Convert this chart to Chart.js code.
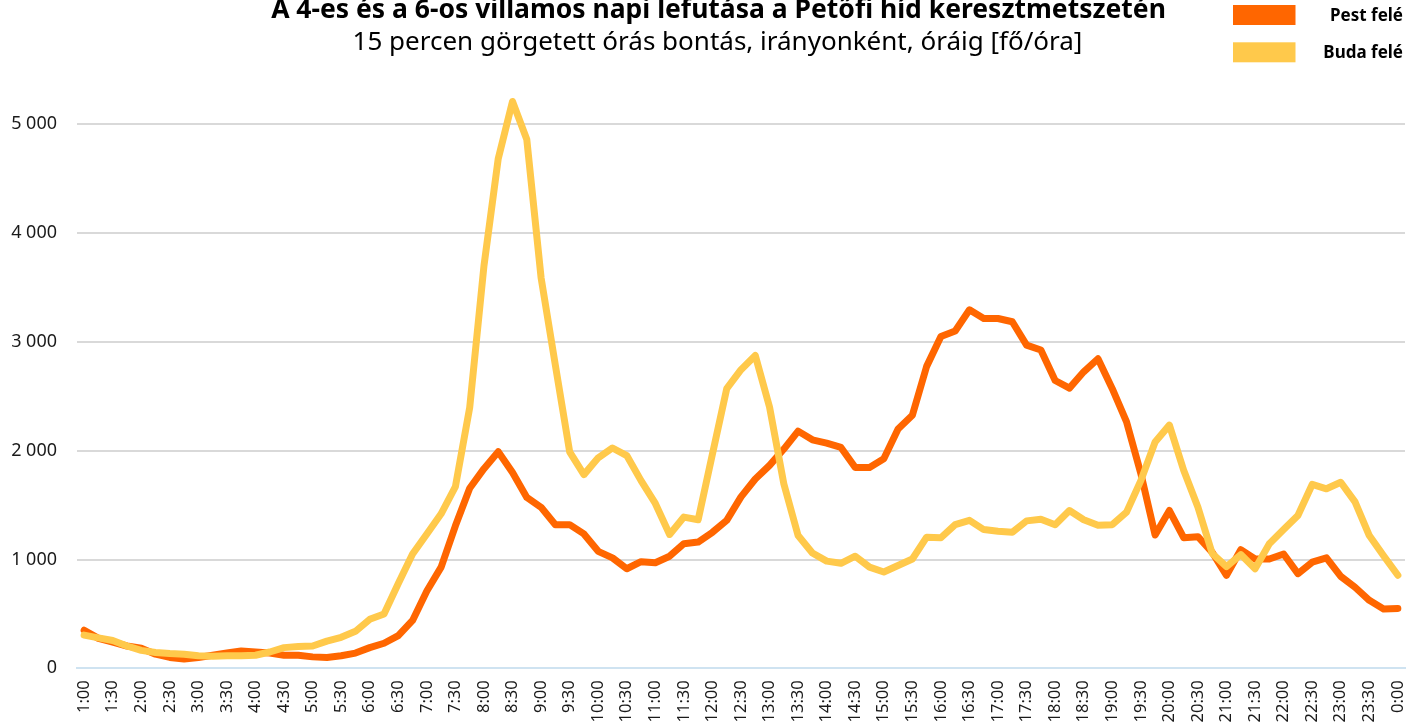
<!DOCTYPE html>
<html lang="hu">
<head>
<meta charset="utf-8">
<title>Petőfi híd villamos</title>
<script src="https://cdn.jsdelivr.net/npm/chart.js@4"></script>
<style>
    html, body { margin: 0; padding: 0; background: #fff; overflow: hidden; }
    #tramChart { display: block; }
</style>
</head>
<body>
<canvas id="tramChart" width="1416" height="724"></canvas>
<script>
const times = [
    '1:00', '1:15', '1:30', '1:45', '2:00', '2:15', '2:30', '2:45', '3:00', '3:15', '3:30', '3:45',
    '4:00', '4:15', '4:30', '4:45', '5:00', '5:15', '5:30', '5:45', '6:00', '6:15', '6:30', '6:45',
    '7:00', '7:15', '7:30', '7:45', '8:00', '8:15', '8:30', '8:45', '9:00', '9:15', '9:30', '9:45',
    '10:00', '10:15', '10:30', '10:45', '11:00', '11:15', '11:30', '11:45', '12:00', '12:15', '12:30', '12:45',
    '13:00', '13:15', '13:30', '13:45', '14:00', '14:15', '14:30', '14:45', '15:00', '15:15', '15:30', '15:45',
    '16:00', '16:15', '16:30', '16:45', '17:00', '17:15', '17:30', '17:45', '18:00', '18:15', '18:30', '18:45',
    '19:00', '19:15', '19:30', '19:45', '20:00', '20:15', '20:30', '20:45', '21:00', '21:15', '21:30', '21:45',
    '22:00', '22:15', '22:30', '22:45', '23:00', '23:15', '23:30', '23:45', '0:00'
];

const pestValues = [
    350, 275, 240, 205, 185, 130, 100, 85, 100, 120, 140, 160,
    150, 140, 120, 120, 105, 100, 115, 140, 190, 230, 300, 440,
    710, 930, 1310, 1655, 1835, 1990, 1800, 1570, 1480, 1320, 1320, 1235,
    1075, 1015, 915, 980, 970, 1030, 1145, 1160, 1250, 1360, 1575, 1740,
    1865, 2015, 2180, 2100, 2070, 2030, 1845, 1845, 1925, 2200, 2325, 2775,
    3050, 3100, 3295, 3215, 3215, 3185, 2970, 2925, 2645, 2575, 2725, 2845,
    2570, 2265, 1790, 1225, 1450, 1200, 1210, 1065, 855, 1090, 1005, 1005,
    1050, 870, 975, 1015, 845, 745, 625, 545, 550
];

const budaValues = [
    305, 280, 255, 205, 165, 145, 135, 130, 115, 110, 115, 115,
    120, 150, 190, 200, 205, 250, 285, 340, 450, 500, 780, 1050,
    1235, 1420, 1670, 2395, 3700, 4685, 5210, 4860, 3590, 2785, 1990, 1780,
    1935, 2025, 1955, 1725, 1515, 1230, 1390, 1365, 1970, 2570, 2745, 2875,
    2400, 1695, 1220, 1060, 985, 965, 1030, 930, 885, 945, 1005, 1205,
    1200, 1320, 1360, 1275, 1260, 1250, 1355, 1370, 1320, 1450, 1365, 1315,
    1320, 1435, 1725, 2080, 2235, 1820, 1480, 1055, 935, 1045, 915, 1145,
    1275, 1405, 1690, 1650, 1710, 1530, 1220, 1035, 855
];

const seriesNames = ['Pest felé', 'Buda felé'];
const seriesColors = ['#FF6600', '#FFC94B'];

const titleText = 'A 4-es és a 6-os villamos napi lefutása a Petőfi híd keresztmetszetén';
const subtitleText = '15 percen görgetett órás bontás, irányonként, óráig [fő/óra]';

const FONT = '"Noto Sans", "Open Sans", sans-serif';

function numberWithSpaces(x) {
    return x.toString().replace(/\B(?=(\d{3})+(?!\d))/g, ' ');
}

// headings + legend (stacked list in the top-right corner)
const headerAndLegend = {
    id: 'headerAndLegend',
    afterDraw(chart) {
        const ctx = chart.ctx;
        ctx.save();
        ctx.fillStyle = '#000';
        ctx.textAlign = 'center';
        ctx.textBaseline = 'alphabetic';
        ctx.font = 'bold 26.5px ' + FONT;
        ctx.fillText(titleText, 718.5, 18.3);
        ctx.font = '26px ' + FONT;
        ctx.fillText(subtitleText, 717.5, 49.8);

        ctx.font = 'bold 17px ' + FONT;
        ctx.textAlign = 'right';
        ctx.textBaseline = 'middle';
        chart.data.datasets.forEach((ds, i) => {
            const top = 5 + i * 37.3;
            ctx.fillStyle = ds.borderColor;
            ctx.fillRect(1233, top, 62.5, 20);
            ctx.fillStyle = '#000';
            ctx.fillText(ds.label, 1403, top + 11);
        });
        ctx.restore();
    }
};

function drawChart() {
    const ctx = document.getElementById('tramChart').getContext('2d');

    window.myChart = new Chart(ctx, {
        type: 'line',
        data: {
            labels: times,
            datasets: [
                {
                    label: seriesNames[0],
                    data: pestValues,
                    borderColor: seriesColors[0],
                    backgroundColor: seriesColors[0],
                    order: 2,
                },
                {
                    label: seriesNames[1],
                    data: budaValues,
                    borderColor: seriesColors[1],
                    backgroundColor: seriesColors[1],
                    order: 1,
                },
            ],
        },
        options: {
            responsive: false,
            animation: false,
            devicePixelRatio: 1,
            layout: { padding: { left: 0, right: 11, top: 124.3, bottom: 0 } },
            elements: {
                line: { borderWidth: 7, tension: 0, borderJoinStyle: 'round', borderCapStyle: 'round', fill: false },
                point: { radius: 0, hoverRadius: 0 },
            },
            datasets: { line: { clip: false } },
            plugins: {
                legend: { display: false },
                tooltip: { enabled: false },
                title: { display: false },
            },
            scales: {
                x: {
                    offset: true,
                    grid: { display: false, drawTicks: false },
                    border: { display: true, color: '#CFE3F1', width: 2 },
                    ticks: {
                        autoSkip: false,
                        minRotation: 90,
                        maxRotation: 90,
                        padding: 12,
                        color: '#1a1a1a',
                        font: { family: FONT, size: 16.5 },
                        callback: function (value, index) {
                            return index % 2 === 0 ? times[index] : '';
                        },
                    },
                    afterFit: function (scale) {
                        scale.height = 55.7;
                        scale.paddingLeft = 0;
                        scale.paddingRight = 0;
                    },
                },
                y: {
                    min: 0,
                    max: 5000,
                    grid: { color: '#D9D9D9', lineWidth: 2, drawTicks: false },
                    border: { display: false },
                    ticks: {
                        stepSize: 1000,
                        padding: 20,
                        color: '#1a1a1a',
                        font: { family: FONT, size: 18 },
                        callback: function (value) { return numberWithSpaces(value); },
                    },
                    afterFit: function (scale) {
                        scale.width = 77;
                        scale.paddingTop = 0;
                    },
                },
            },
        },
        plugins: [headerAndLegend],
    });
}

drawChart();
</script>
</body>
</html>
